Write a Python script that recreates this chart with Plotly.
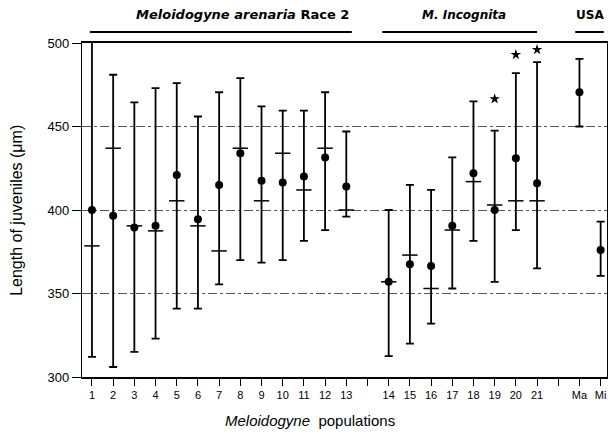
import plotly.graph_objects as go

# ---- data ----
groups = [
    ["1", "2", "3", "4", "5", "6", "7", "8", "9", "10", "11", "12", "13"],
    ["14", "15", "16", "17", "18", "19", "20", "21"],
    ["Ma", "Mi"],
]
group_titles = ["<i>Meloidogyne arenaria</i> Race 2", "<i>M. Incognita</i>", "USA"]

mean_len = [400, 396.5, 389.5, 390.5, 421, 394.5, 415, 434, 417.5, 416.5, 420, 431.5, 414,
            357, 367.5, 366.5, 390.5, 422, 400, 431, 416,
            470.5, 376]
second_len = [378.5, 437, 390.5, 387.5, 405.5, 390.5, 375.5, 437, 405.5, 434, 412, 437, 400,
              357, 373, 353, 388, 417, 403, 405.5, 405.5,
              None, None]
min_len = [312, 306, 315, 323, 341, 341, 355.5, 370, 368.5, 370, 381.5, 388, 396,
           312.5, 320, 332, 353, 381.5, 357, 388, 365,
           450, 360.5]
max_len = [501.5, 481, 464.5, 473, 476, 456, 470.5, 479, 462, 459.5, 459.5, 470.5, 447,
           400, 415, 412, 431.5, 465, 447.5, 482, 488.5,
           490.5, 393]
star_pops = ["19", "20", "21"]
star_y = [466.5, 493, 496]

# ---- derive positions (one empty slot between groups) ----
labels, xpos, group_span = [], [], []
pos = 1
for gi, g in enumerate(groups):
    start = pos
    for lab in g:
        labels.append(lab)
        xpos.append(pos)
        pos += 1
    group_span.append((start, pos - 1))
    pos += 1
n_slots = xpos[-1]
tickvals = list(range(1, n_slots + 1))
ticktext = [labels[xpos.index(t)] if t in xpos else "" for t in tickvals]
pos_of = dict(zip(labels, xpos))

err_plus = [mx - m for mx, m in zip(max_len, mean_len)]
err_minus = [m - mn for m, mn in zip(mean_len, min_len)]

fig = go.Figure()
fig.add_trace(go.Scatter(
    x=xpos, y=mean_len, mode="markers",
    marker=dict(color="black", size=8, symbol="circle"),
    error_y=dict(type="data", symmetric=False, array=err_plus, arrayminus=err_minus,
                 color="black", thickness=1.8, width=4),
    cliponaxis=False, showlegend=False,
))
fig.add_trace(go.Scatter(
    x=xpos, y=second_len, mode="markers",
    marker=dict(symbol="line-ew", size=11, line=dict(color="black", width=1.5)),
    cliponaxis=False, showlegend=False,
))
fig.add_trace(go.Scatter(
    x=[pos_of[p] for p in star_pops], y=star_y, mode="markers",
    marker=dict(symbol="star", size=8, color="black"),
    cliponaxis=False, showlegend=False,
))

# group headers
line_ext = [(-0.1, 0.26), (-0.3, 0.0), (-0.2, 0.15)]
text_shift = [1.1, 0.05, 0.0]
text_size = [13, 12, 12]
for (s, e), title, (dl, dr), ts, tsz in zip(group_span, group_titles, line_ext,
                                            text_shift, text_size):
    fig.add_shape(type="line", xref="x", yref="paper", x0=s + dl, x1=e + dr,
                  y0=1.033, y1=1.033, line=dict(color="black", width=2))
    fig.add_annotation(x=(s + e) / 2 + ts, xref="x", yref="paper", y=1.084,
                       xanchor="center", yanchor="middle",
                       text="<b>" + title + "</b>", showarrow=False,
                       font=dict(size=tsz, color="black",
                                 family="DejaVu Sans, Liberation Sans, sans-serif"))

# axis titles
fig.add_annotation(x=0.434, y=-0.129, xref="paper", yref="paper",
                   xanchor="center", yanchor="middle",
                   text="<i>Meloidogyne</i>  populations", showarrow=False,
                   font=dict(size=15, color="black"))
fig.add_annotation(x=-0.126, y=0.5, xref="paper", yref="paper", textangle=-90,
                   xanchor="center", yanchor="middle",
                   text="Length of juveniles (μm)", showarrow=False,
                   font=dict(size=16, color="black"))

fig.update_layout(
    width=609, height=436,
    margin=dict(l=82, r=2, t=43, b=59, autoexpand=False),
    paper_bgcolor="white", plot_bgcolor="white",
    font=dict(family="Liberation Sans, Arial, sans-serif", color="black", size=12),
    xaxis=dict(range=[0.53, n_slots + 0.3], tickvals=tickvals, ticktext=ticktext,
               showgrid=False, zeroline=False, showline=True, linecolor="black",
               linewidth=1.5, mirror=True, ticks="outside", ticklen=7,
               tickcolor="black", tickfont=dict(size=11), automargin=False),
    yaxis=dict(range=[300, 500], tickvals=[300, 350, 400, 450, 500],
               showgrid=True, gridcolor="#555555", griddash="dashdot", gridwidth=1,
               zeroline=False, showline=True, linecolor="black", linewidth=1.2,
               mirror=True, ticks="outside", ticklen=9, tickcolor="black",
               tickfont=dict(size=13), automargin=False),
)

fig.write_html("out.html", config={"displayModeBar": False},
               post_script="document.body.style.margin='0';document.body.style.overflow='hidden';")
